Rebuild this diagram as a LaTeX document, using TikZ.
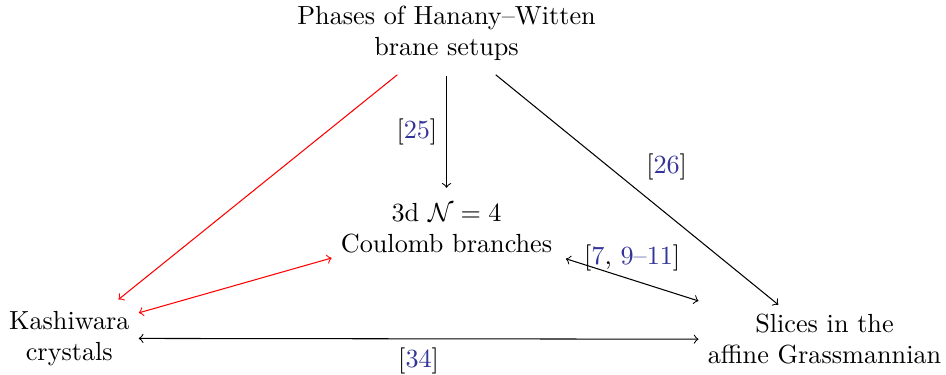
\documentclass[tikz,border=0pt]{standalone}
\usepackage{amsmath}
\definecolor{citeblue}{rgb}{0.2,0.2,0.6}
\newcommand{\refcite}[1]{[\textcolor{citeblue}{#1}]}

\begin{document}
\begin{tikzpicture}
  \useasboundingbox (0,0) rectangle (12.69,5.02);

  \node[align=center] (hw) at (5.99,4.57) {Phases of Hanany--Witten\\brane setups};
  \node[align=center] (coulomb) at (5.99,1.96) {3d $\mathcal{N}=4$\\Coulomb branches};
  \node[align=center] (kash) at (0.93,0.48) {Kashiwara\\crystals};
  \node[align=center] (slices) at (11.06,0.47) {Slices in the\\affine Grassmannian};

  \draw[->] ([yshift=-0.08cm]hw.south) -- ([yshift=0.08cm]coulomb.north)
    node[midway,left] {\refcite{25}};
  \draw[->] ([shift={(0.66cm,-0.06cm)}]hw.south) -- ([xshift=-0.62cm]slices.north)
    node[midway,above right] {\refcite{26}};
  \draw[->,red] ([shift={(-0.66cm,-0.06cm)}]hw.south) -- ([shift={(0.66cm,0.03cm)}]kash.north);

  \draw[<->,red] ([yshift=-0.15cm]kash.north east) -- ([yshift=0.06cm]coulomb.south west);
  \draw[<->] ([shift={(0.06cm,0.05cm)}]coulomb.south east) -- ([yshift=0.05cm]slices.north west)
    node[midway,above] {[\textcolor{citeblue}{7}, \textcolor{citeblue}{9--11}]};
  \draw[<->] (kash.east) -- (slices.west) node[midway,below] {\refcite{34}};
\end{tikzpicture}
\end{document}
